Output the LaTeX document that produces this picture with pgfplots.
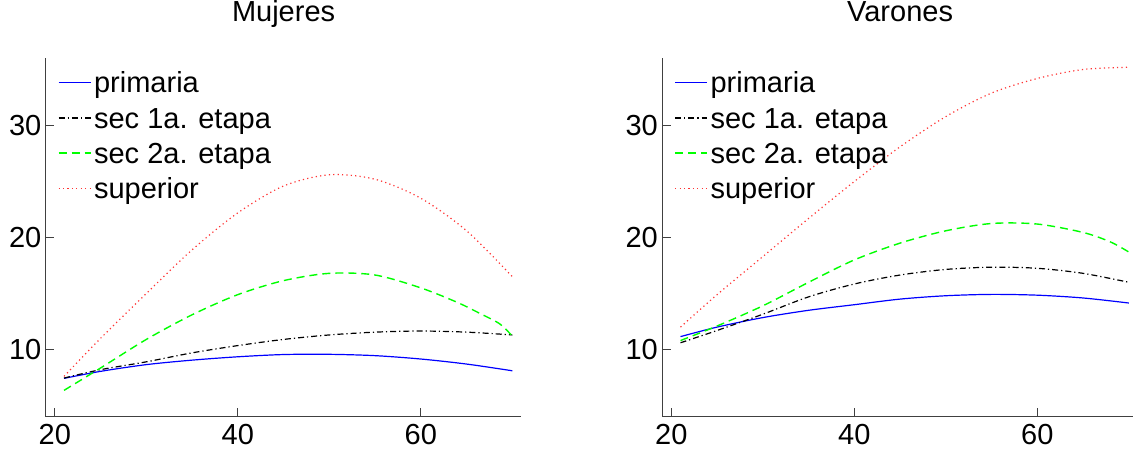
\documentclass[border=0pt]{standalone}
\usepackage{pgfplots}
\pgfplotsset{compat=1.18}
\usepackage{pgfplotstable}
\usepackage{fontspec}
\setmainfont{Liberation Sans}

\definecolor{cprim}{rgb}{0,0,1}
\definecolor{csecuno}{rgb}{0,0,0}
\definecolor{csecdos}{rgb}{0,1,0}
\definecolor{csup}{rgb}{1,0.2,0.2}

% ---- Mujeres ----
\pgfplotstableread{
x y
21 7.42
25 8.05
30 8.65
35 9.05
40 9.35
45 9.55
50 9.57
55 9.45
60 9.15
65 8.7
70 8.1
}\Mprim
\pgfplotstableread{
x y
21 7.45
25 8.2
30 8.9
35 9.7
40 10.35
45 10.9
50 11.3
55 11.55
60 11.65
65 11.55
70 11.3
}\Msecuno
\pgfplotstableread{
x y
21 6.35
25 8.35
30 10.9
35 13.1
40 14.9
45 16.15
50 16.8
55 16.65
60 15.5
64 14.2
66.5 13.2
68.6 12.3
70 11.2
}\Msecdos
\pgfplotstableread{
x y
21 7.6
25 11.0
30 15.0
35 18.9
40 22.2
45 24.6
50 25.6
55 25.2
60 23.5
65 20.6
70 16.5
}\Msup

% ---- Varones ----
\pgfplotstableread{
x y
21 11.15
25 12.0
30 12.85
35 13.5
40 14.0
45 14.5
50 14.8
55 14.92
60 14.85
65 14.6
70 14.15
}\Vprim
\pgfplotstableread{
x y
21 10.6
25 11.7
30 13.15
35 14.7
40 15.85
45 16.65
50 17.15
55 17.35
60 17.25
65 16.8
70 16.0
}\Vsecuno
\pgfplotstableread{
x y
21 10.8
25 12.1
30 13.9
35 16.0
40 18.0
45 19.5
50 20.6
55 21.25
60 21.2
65 20.45
68 19.6
70 18.7
}\Vsecdos
\pgfplotstableread{
x y
21 12.0
25 14.9
30 18.3
35 21.7
40 25.0
45 28.1
50 30.8
55 32.9
60 34.2
65 35.0
70 35.2
}\Vsup

\newcommand\chartfont{\fontsize{14.5}{17}\selectfont}

% line styles of the four series
\tikzset{
  prim/.style={draw=cprim, solid, line width=0.6pt},
  secuno/.style={draw=csecuno, line width=0.6pt, dash pattern=on 3pt off 1.5pt on 0.6pt off 1.5pt},
  secdos/.style={draw=csecdos, line width=0.7pt, dash pattern=on 4pt off 2.5pt},
  sup/.style={draw=csup, line width=0.6pt, dash pattern=on 0.6pt off 1.6pt},
}

\pgfplotsset{
  panel/.style={
    scale only axis,
    width=237.9pt, height=179.2pt,
    xmin=19, xmax=71, ymin=4, ymax=36,
    xtick={20,40,60}, ytick={10,20,30},
    axis x line*=bottom, axis y line*=left,
    axis line style={-, draw=black!75, line width=0.5pt},
    tick style={draw=black!75, line width=0.5pt},
    tick align=inside, major tick length=4.3pt,
    /pgf/number format/assume math mode=true,
    ticklabel style={font=\chartfont},
    yticklabel style={inner xsep=2pt},
    title style={at={(0.5,1)}, anchor=base, yshift=12.2pt, font=\chartfont},
    legend style={draw=none, fill=none, at={(0,1)}, anchor=north west,
      xshift=5.8pt, yshift=-6.6pt, font=\chartfont, inner sep=0pt,
      row sep=3.6pt, column sep=1.2pt,
      nodes={inner sep=0pt, text height=10.5pt, text depth=3.5pt}},
    legend cell align=left,
  },
  primimg/.style={legend image code/.code={\draw[prim] (0pt,1.5pt) -- (16pt,1.5pt);}},
  secunoimg/.style={legend image code/.code={\draw[secuno] (0pt,1.5pt) -- (16pt,1.5pt);}},
  secdosimg/.style={legend image code/.code={\draw[secdos, line width=1pt] (0pt,1.5pt) -- (16pt,1.5pt);}},
  supimg/.style={legend image code/.code={\draw[sup] (0pt,1.5pt) -- (16pt,1.5pt);}},
}

\begin{document}
\begin{tikzpicture}
\begin{axis}[panel, title={Mujeres}, at={(0pt,0pt)}, anchor=south west]
  \addplot[prim, smooth, primimg] table {\Mprim};
  \addplot[secuno, smooth, secunoimg] table {\Msecuno};
  \addplot[secdos, smooth, secdosimg] table {\Msecdos};
  \addplot[sup, smooth, supimg] table {\Msup};
  \legend{primaria, sec 1a. etapa, sec 2a. etapa, superior}
\end{axis}
\begin{axis}[panel, title={Varones}, at={(308.25pt,0pt)}, anchor=south west]
  \addplot[prim, smooth, primimg] table {\Vprim};
  \addplot[secuno, smooth, secunoimg] table {\Vsecuno};
  \addplot[secdos, smooth, secdosimg] table {\Vsecdos};
  \addplot[sup, smooth, supimg] table {\Vsup};
  \legend{primaria, sec 1a. etapa, sec 2a. etapa, superior}
\end{axis}
\pgfresetboundingbox
\useasboundingbox (-22.85pt,-18.65pt) rectangle (543.65pt,208.35pt);
\end{tikzpicture}
\end{document}
